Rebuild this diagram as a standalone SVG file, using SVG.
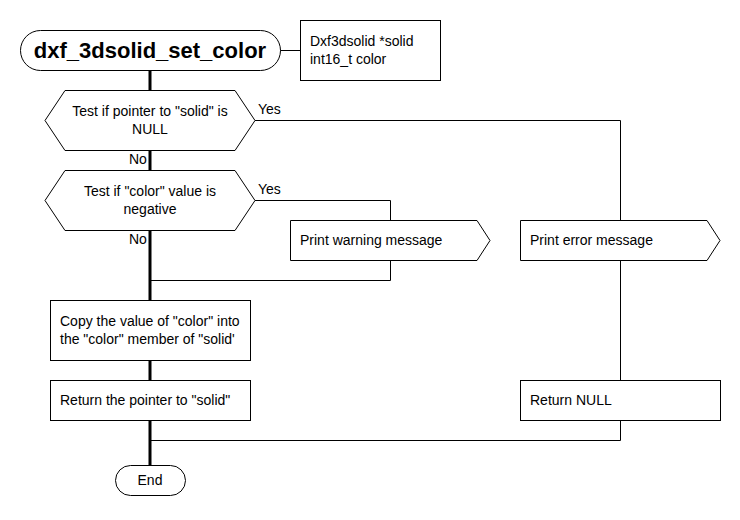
<svg xmlns="http://www.w3.org/2000/svg" width="740" height="520" viewBox="0 0 740 520">
<style>
.s{fill:#fff;stroke:#000;stroke-width:1}
.t{font-family:"Liberation Sans",Arial,sans-serif;font-size:14px;fill:#000}
.c{text-anchor:middle}
.thin{fill:none;stroke:#000;stroke-width:1}
.thick{fill:none;stroke:#000;stroke-width:3}
</style>
<rect width="740" height="520" fill="#fff"/>
<g id="connectors">
<path class="thick" d="M150 70V90M150 150V170M150 230V300M150 360V380M150 420V465"/>
<path class="thin" d="M280 50.5H300"/>
<path class="thin" d="M255 120.5H620.5V220M620.5 260V380M620.5 420V440.5H150"/>
<path class="thin" d="M255 200.5H390.5V220M390.5 260V280.5H150"/>
<text class="t" x="258" y="114">Yes</text>
<text class="t" x="129" y="164">No</text>
<text class="t" x="258" y="194">Yes</text>
<text class="t" x="129" y="244">No</text>
</g>
<g id="start">
<rect class="s" x="20.5" y="30.5" width="260" height="40" rx="20"/>
<text class="t c" x="150" y="58" style="font-size:22px;font-weight:bold">dxf_3dsolid_set_color</text>
</g>
<g id="params">
<rect class="s" x="300.5" y="20.5" width="140" height="60"/>
<text class="t" x="310" y="46">Dxf3dsolid *solid</text>
<text class="t" x="310" y="64">int16_t color</text>
</g>
<g id="test_null">
<polygon class="s" points="45,120.5 65,90.5 235,90.5 255,120.5 235,150.5 65,150.5"/>
<text class="t c" x="150" y="116">Test if pointer to "solid" is</text>
<text class="t c" x="150" y="134">NULL</text>
</g>
<g id="test_neg">
<polygon class="s" points="45,200.5 65,170.5 235,170.5 255,200.5 235,230.5 65,230.5"/>
<text class="t c" x="150" y="196">Test if "color" value is</text>
<text class="t c" x="150" y="214">negative</text>
</g>
<g id="warn">
<polygon class="s" points="290.5,220.5 477,220.5 490,240.5 477,260.5 290.5,260.5"/>
<text class="t" x="300" y="245">Print warning message</text>
</g>
<g id="err">
<polygon class="s" points="520.5,220.5 707,220.5 720,240.5 707,260.5 520.5,260.5"/>
<text class="t" x="530" y="245">Print error message</text>
</g>
<g id="copy">
<rect class="s" x="50.5" y="300.5" width="200" height="60"/>
<text class="t" x="60" y="326">Copy the value of "color" into</text>
<text class="t" x="60" y="344">the "color" member of "solid'</text>
</g>
<g id="ret_ptr">
<rect class="s" x="50.5" y="380.5" width="200" height="40"/>
<text class="t" x="60" y="405">Return the pointer to "solid"</text>
</g>
<g id="ret_null">
<rect class="s" x="520.5" y="380.5" width="200" height="40"/>
<text class="t" x="530" y="405">Return NULL</text>
</g>
<g id="end">
<rect class="s" x="115.5" y="465.5" width="70" height="30" rx="15"/>
<text class="t c" x="150" y="485">End</text>
</g>
</svg>
